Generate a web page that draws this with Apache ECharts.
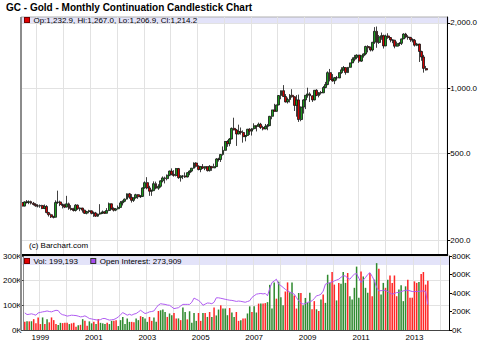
<!DOCTYPE html>
<html><head><meta charset="utf-8">
<script src="https://cdn.jsdelivr.net/npm/echarts@6/dist/echarts.min.js"></script>
<style>html,body{margin:0;padding:0;background:#fff}#c{width:480px;height:360px}</style>
</head><body><div id="c"></div>
<script>
// ---------------- data ----------------
const chartTitle = 'GC - Gold - Monthly Continuation Candlestick Chart';
const firstYear = 1998, firstMonth = 6;      // first category (Jun 1998)
const categoryCount = 191;                    // Jun 1998 .. Apr 2014
const yearLabels = ['1999','2001','2003','2005','2007','2009','2011','2013'];
const priceTicks = [200, 500, 1000, 2000];
const volTicksMax = 300, oiTicksMax = 800;

// monthly [open, high, low, close], Jun 1998 .. Jul 2013
const ohlc = [
 [298,300,285,287],[287,302,286,300],[300,306,295,298],[298,305,293,301],[301,304,292,296],[296,300,289,292],[292,296,285,288],
 [288,293,283,287],[287,292,282,289],[289,291,278,280],[280,292,278,286],[286,290,266,268],[268,270,257,262],[262,265,253,256],[256,259,252,255],[255,305,255,298],[298,338,294,300],[300,304,287,292],[292,295,280,289],
 [289,294,281,284],[284,320,283,294],[294,298,276,280],[280,290,274,277],[277,282,271,274],[274,293,271,290],[290,292,276,279],[279,283,272,281],[281,282,268,275],[275,276,264,266],[266,273,263,271],[271,276,266,273],
 [273,274,263,266],[266,271,256,267],[267,270,256,258],[258,265,256,264],[264,293,262,267],[267,274,264,270],[270,272,264,266],[266,281,266,274],[274,298,272,294],[294,295,276,280],[280,283,271,275],[275,281,272,279],
 [279,289,277,283],[283,303,283,297],[297,305,289,302],[302,311,299,309],[309,328,308,327],[327,330,310,315],[315,326,298,305],[305,315,300,313],[313,327,311,324],[324,326,310,317],[317,323,313,318],[318,350,316,348],
 [348,373,345,368],[368,390,343,348],[348,356,320,336],[336,342,320,338],[338,373,338,364],[364,372,343,347],[347,362,341,354],[354,377,349,375],[375,393,369,387],[387,392,365,384],[384,401,377,398],[398,418,394,416],
 [416,428,398,402],[402,420,392,397],[397,430,393,427],[427,430,383,388],[388,398,372,394],[394,398,382,395],[395,410,387,391],[391,411,389,409],[409,419,398,416],[416,430,411,429],[429,456,427,453],[453,457,432,438],
 [438,442,419,423],[423,439,411,436],[436,448,425,429],[429,438,420,436],[436,436,414,418],[418,443,414,437],[437,438,417,430],[430,450,430,436],[436,477,435,473],[473,479,460,470],[470,498,458,496],[496,540,490,518],
 [518,572,516,569],[569,577,538,556],[556,590,541,584],[584,660,583,654],[654,732,640,643],[643,650,543,616],[616,680,614,633],[633,660,612,626],[626,640,562,599],[599,610,570,606],[606,650,605,648],[648,655,610,635],
 [635,656,606,652],[652,690,645,672],[672,672,633,669],[669,695,665,683],[683,693,650,660],[660,672,640,650],[650,685,648,668],[668,685,641,673],[673,746,670,743],[743,796,720,795],[795,848,780,783],[783,840,780,838],
 [838,930,835,926],[926,976,890,975],[975,1034,919,916],[916,940,860,865],[865,906,851,888],[888,940,860,928],[928,990,905,914],[914,918,786,834],[834,930,740,884],[884,935,700,718],[718,825,705,819],[819,890,765,884],
 [884,930,802,928],[928,1006,905,942],[942,958,865,923],[923,925,865,884],[884,980,880,979],[979,990,920,927],[927,960,908,955],[955,972,935,953],[953,1025,950,1008],[1008,1070,1000,1040],[1040,1196,1033,1180],[1180,1227,1075,1097],
 [1097,1162,1072,1081],[1081,1127,1045,1118],[1118,1139,1086,1115],[1115,1182,1114,1180],[1180,1250,1165,1215],[1215,1266,1203,1245],[1245,1246,1155,1181],[1181,1250,1175,1248],[1248,1310,1243,1308],[1308,1388,1307,1359],[1359,1424,1330,1386],[1386,1432,1360,1421],
 [1421,1425,1309,1333],[1333,1412,1322,1411],[1411,1447,1383,1439],[1439,1569,1419,1556],[1556,1577,1462,1536],[1536,1556,1477,1500],[1500,1632,1478,1628],[1628,1911,1600,1828],[1828,1923,1535,1624],[1624,1758,1600,1725],[1725,1804,1670,1746],[1746,1764,1523,1566],
 [1566,1764,1563,1740],[1740,1791,1688,1711],[1711,1720,1627,1669],[1669,1677,1612,1664],[1664,1668,1527,1561],[1561,1640,1555,1604],[1604,1630,1564,1610],[1610,1692,1581,1687],[1687,1790,1684,1776],[1776,1798,1698,1719],[1719,1755,1672,1713],[1713,1723,1635,1675],
 [1675,1696,1626,1663],[1663,1685,1555,1578],[1578,1617,1562,1596],[1596,1603,1321,1476],[1476,1488,1338,1393],[1393,1424,1180,1234],[1232.9,1267.0,1206.9,1214.2]
];

// volume, thousands (left axis)
const volumeK = [
 33,35,35,35,44,27,51,24,51,24,44,31,51,40,24,20,29,
 28,29,29,24,27,29,13,19,21,44,37,17,
 35,27,33,24,44,29,27,24,29,24,37,37,
 40,16,40,53,24,47,33,33,31,47,40,56,
 53,47,33,53,37,51,33,77,80,83,73,53,
 67,60,69,47,47,40,91,73,43,76,29,69,
 37,69,37,69,69,53,73,53,91,59,83,100,87,87,
 60,89,71,53,73,37,40,47,47,67,96,73,
 96,71,107,107,107,109,113,183,87,193,127,196,
 133,100,156,193,153,193,140,87,150,150,100,130,
 111,151,84,117,84,77,124,144,110,224,191,235,
 184,120,191,188,235,191,231,137,124,171,257,131,
 237,217,171,151,231,137,204,271,248,144,191,171,
 204,221,191,221,137,164,181,117,177,204,131,131,
 197,191,195,227,235,184,199.193
];

// open interest, thousands (right axis)
const openInterestK = [
 185,167,170,175,168,160,185,190,196,200,206,200,
 196,205,213,210,178,165,160,150,155,160,158,156,
 150,142,145,153,140,124,120,114,110,107,112,124,
 124,115,107,110,114,125,142,165,188,175,160,170,
 160,172,178,195,213,195,178,185,196,200,206,240,
 270,284,280,277,270,267,250,231,236,241,260,277,
 277,277,277,300,345,332,320,300,267,280,292,290,
 284,300,348,348,343,338,332,327,322,320,315,309,
 313,310,305,300,308,316,352,370,387,392,395,390,
 395,370,450,513,530,549,495,480,460,440,423,410,
 400,387,350,316,290,280,285,298,305,316,340,370,
 375,387,420,495,505,513,520,531,540,549,570,585,
 585,560,549,580,603,610,560,513,540,567,600,620,
 580,531,460,423,425,430,428,416,400,387,395,405,
 405,415,423,428,430,423,416,416,416,418,420,423,
 415,273.909
];

// ---------------- build ----------------
const categories = [];
for (let i = 0; i < categoryCount; i++) {
  const m = firstMonth - 1 + i;
  const y = firstYear + Math.floor(m / 12);
  const mm = (m % 12) + 1;
  categories.push(y + '-' + (mm < 10 ? '0' + mm : mm));
}
const isJan = (idx, v) => typeof v === 'string' ? v.slice(5) === '01' : categories[idx].slice(5) === '01';
const fmt1 = v => Number(v).toLocaleString('en-US', {minimumFractionDigits: 1, maximumFractionDigits: 1});
const fmt0 = v => Math.round(v).toLocaleString('en-US');

const UP = '#1c9c1c', DOWN = '#d40000';
const VUP = '#2f8a2f', VDOWN = '#ff2626';
const last = ohlc[ohlc.length - 1];
const FONT = 'Liberation Sans';

const option = {
  animation: false,
  backgroundColor: '#ffffff',
  textStyle: {fontFamily: FONT},
  title: [
    {text: chartTitle, left: 6, top: 2, padding: 0,
     textStyle: {fontSize: 10, fontWeight: 'bold', color: '#000', fontFamily: FONT}},
    {text: '{sq|}  Op:' + fmt1(last[0]) + ', Hi:' + fmt1(last[1]) + ', Lo:' + fmt1(last[2]) + ', Cl:' + fmt1(last[3]),
     left: 25, top: 16, padding: 0,
     textStyle: {fontSize: 8, color: '#000', fontWeight: 'normal', fontFamily: FONT,
       rich: {sq: {width: 4, height: 4, backgroundColor: '#e00000', borderColor: '#700', borderWidth: 1}}}},
    {text: '{sq|}  Vol: ' + fmt0(volumeK[volumeK.length - 1] * 1000) + '      {sq2|}  Open Interest: ' + fmt0(openInterestK[openInterestK.length - 1] * 1000),
     left: 25, top: 257, padding: 0,
     textStyle: {fontSize: 8, color: '#000', fontWeight: 'normal', fontFamily: FONT,
       rich: {sq: {width: 4, height: 4, backgroundColor: '#e00000', borderColor: '#700', borderWidth: 1},
              sq2: {width: 4, height: 4, backgroundColor: '#a64cf0', borderColor: '#333', borderWidth: 1}}}},
    {text: '(c) Barchart.com', left: 29, top: 241, padding: 0,
     textStyle: {fontSize: 8, color: '#000', fontWeight: 'normal', fontFamily: FONT}}
  ],
  graphic: [
    {type: 'rect', z: -1, shape: {x: 21, y: 17, width: 428, height: 7}, style: {fill: '#e3e3f9'}},
    {type: 'rect', z: -1, shape: {x: 21, y: 257, width: 428, height: 8}, style: {fill: '#e3e3f9'}},
    {type: 'line', z: 50, shape: {x1: 21, y1: 17, x2: 21, y2: 330}, style: {stroke: '#8c8c8c', lineWidth: 2}}
  ],
  grid: [
    {left: 21, top: 17, width: 428, height: 238, show: true, borderColor: '#b0b0b0', borderWidth: 1, backgroundColor: 'transparent'},
    {left: 21, top: 256, width: 428, height: 74, show: false}
  ],
  xAxis: [
    {type: 'category', gridIndex: 0, data: categories, boundaryGap: true,
     axisLine: {show: true, lineStyle: {color: '#000', width: 2}},
     axisTick: {show: false}, axisLabel: {show: false},
     splitLine: {show: true, interval: isJan, lineStyle: {color: '#e2e2e2', width: 1}}},
    {type: 'category', gridIndex: 1, data: categories, boundaryGap: true,
     axisLine: {show: true, lineStyle: {color: '#444', width: 1}},
     axisTick: {show: false},
     axisLabel: {show: true, interval: (idx, v) => isJan(idx, v) && yearLabels.indexOf(v.slice(0, 4)) >= 0,
       formatter: v => v.slice(0, 4), fontSize: 8, color: '#000', margin: 3, fontFamily: FONT},
     splitLine: {show: true, interval: isJan, lineStyle: {color: '#e2e2e2', width: 1}}}
  ],
  yAxis: [
    {type: 'log', gridIndex: 0, position: 'right', min: 171, max: 2127, logBase: 10,
     axisLine: {show: true, lineStyle: {color: '#000'}},
     axisTick: {show: true, inside: false, length: 3, customValues: priceTicks, lineStyle: {color: '#000'}},
     axisLabel: {show: true, customValues: priceTicks, formatter: v => fmt1(v), fontSize: 8, color: '#000', margin: 3, fontFamily: FONT},
     splitLine: {show: true, lineStyle: {color: '#e2e2e2'}}},
    {type: 'value', gridIndex: 1, position: 'left', min: 0, max: volTicksMax, interval: 100,
     axisLine: {show: true, lineStyle: {color: '#8c8c8c', width: 1}},
     axisTick: {show: true, inside: false, length: 3, lineStyle: {color: '#444'}},
     axisLabel: {formatter: '{value}K', fontSize: 8, color: '#000', margin: 2, fontFamily: FONT},
     splitLine: {show: true, lineStyle: {color: '#e2e2e2'}}},
    {type: 'value', gridIndex: 1, position: 'right', min: 0, max: oiTicksMax, interval: 200,
     axisLine: {show: true, lineStyle: {color: '#000'}},
     axisTick: {show: true, inside: false, length: 3, lineStyle: {color: '#000'}},
     axisLabel: {formatter: '{value}K', fontSize: 8, color: '#000', margin: 3, fontFamily: FONT},
     splitLine: {show: false}}
  ],
  series: [
    {type: 'candlestick', xAxisIndex: 0, yAxisIndex: 0, barWidth: 2.4,
     data: ohlc.map(r => [r[0], r[3], r[2], r[1]]),
     itemStyle: {color: UP, color0: DOWN, borderColor: '#111', borderColor0: '#111', borderWidth: 0.8},
     markLine: {silent: true, symbol: 'none',
       lineStyle: {opacity: 0},
       label: {show: true, position: 'end', distance: 3, formatter: () => fmt1(last[3]),
         color: '#fff', backgroundColor: '#000', padding: [1, 1, 0, 1], fontSize: 8, fontFamily: FONT},
       data: [{yAxis: last[3]}]}},
    {type: 'bar', xAxisIndex: 1, yAxisIndex: 1, barWidth: '68%',
     data: volumeK.map((v, i) => ({value: v, itemStyle: {color: ohlc[i][3] >= ohlc[i][0] ? VUP : VDOWN}}))},
    {type: 'line', xAxisIndex: 1, yAxisIndex: 2, data: openInterestK, showSymbol: false, symbol: 'none',
     lineStyle: {color: '#b05cf2', width: 1}, z: 4}
  ]
};
const chart = echarts.init(document.getElementById('c'), null, {renderer: 'svg', width: 480, height: 360});
chart.setOption(option);
</script></body></html>
